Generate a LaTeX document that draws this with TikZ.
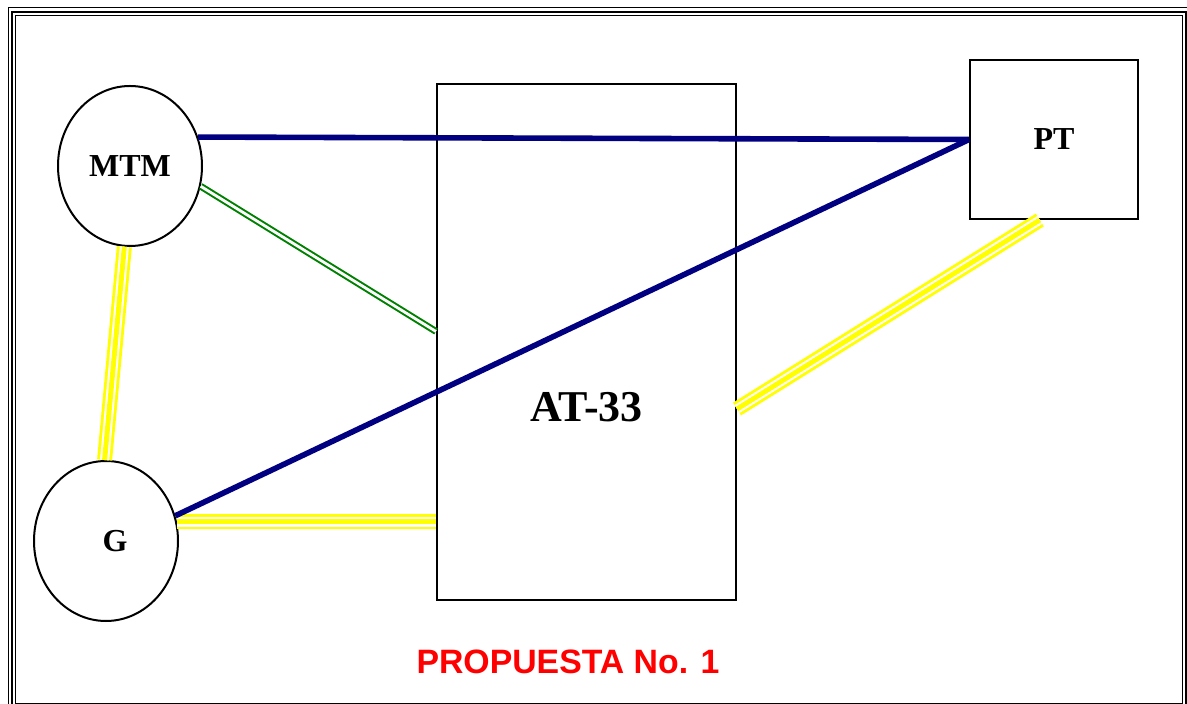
\documentclass[tikz,border=0pt]{standalone}
\usepackage{fontspec}
\setmainfont{Liberation Serif}
\newfontfamily\arialfont{Liberation Sans}
\usepackage{xcolor}
\usetikzlibrary{positioning,shapes.geometric}
\definecolor{navyln}{RGB}{0,0,128}
\definecolor{greenln}{RGB}{0,128,0}
\definecolor{yellowln}{RGB}{255,255,0}
\definecolor{redtxt}{RGB}{255,0,0}
\tikzset{
  unit/.style  ={draw=black, line width=1pt, ellipse, inner sep=0pt,
                 minimum width=72pt, minimum height=80pt, font=\bfseries\fontsize{16}{18}\selectfont},
  box/.style   ={draw=black, line width=1pt, rectangle, inner sep=0pt},
  navy/.style  ={draw=navyln, line width=2.8pt},
  dbl/.style   ={draw=greenln, double=white, double distance=1.4pt, line width=1pt},
  tri/.style   ={draw=yellowln, line width=7.5pt,
                 postaction={draw=white, line width=4.6pt},
                 postaction={draw=yellowln, line width=2.5pt}},
}

\begin{document}
\begin{tikzpicture}[x=0.5pt,y=-0.5pt]
\useasboundingbox (0,0) rectangle (1187,704);
% frame
\draw[line width=0.5pt] (8,8) rectangle (1192,711);
\draw[line width=1.3pt] (12,12) rectangle (1186,707);
\draw[line width=0.5pt] (15.5,15.5) rectangle (1182.5,703);
% blocks
\node[unit] (mtm) at (130,166) {MTM};
\node[unit, label={[font=\bfseries\fontsize{16}{18}\selectfont, xshift=4.5pt]center:G}] (g) at (106,541) {};
\node[box, minimum width=149.5pt, minimum height=258pt,
      label={[font=\bfseries\fontsize{22}{26}\selectfont, yshift=-32.5pt]center:AT-33}] (at) at (586.5,342) {};
\node[box, minimum width=84pt, minimum height=79.5pt,
      font=\bfseries\fontsize{16}{18}\selectfont] (pt) at (1054,139.5) {PT};
% links
\draw[dbl] (mtm.-16) -- (at.176.6);
\draw[tri] (mtm.266) -- (g.91);
\draw[tri] (g.15) -- (g.15 -| at.west);
\draw[tri] (at.-24.5) -- (pt.260);
\draw[navy] (mtm.23) -- (pt.west);
\draw[navy] (g.20) -- (pt.west);
\node[font=\arialfont\bfseries\fontsize{16.9}{20}\selectfont, text=redtxt] (cap) at (568,662) {PROPUESTA No. 1};
\end{tikzpicture}
\end{document}
